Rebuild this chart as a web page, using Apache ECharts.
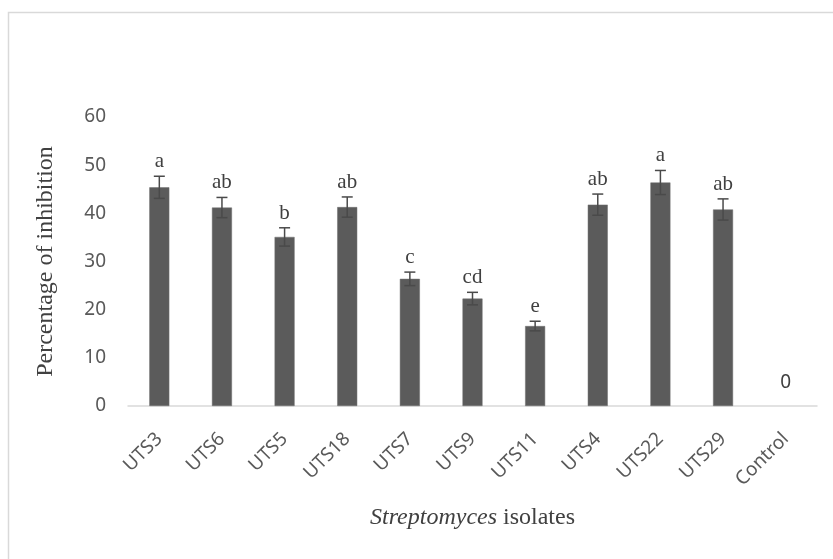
<!DOCTYPE html>
<html>
<head>
<meta charset="utf-8">
<script src="https://cdn.jsdelivr.net/npm/echarts@6/dist/echarts.min.js"></script>
<style>
  html, body { margin: 0; padding: 0; background: #fff; }
  #main { width: 833px; height: 559px; }
</style>
</head>
<body>
<div id="main"></div>
<script>
// data
var isolates = ['UTS3', 'UTS6', 'UTS5', 'UTS18', 'UTS7', 'UTS9', 'UTS11', 'UTS4', 'UTS22', 'UTS29', 'Control'];
var inhibition = [45.4, 41.2, 35.1, 41.3, 26.4, 22.3, 16.6, 41.8, 46.4, 40.8, 0];
var errors = [2.3, 2.1, 1.9, 2.1, 1.4, 1.3, 1.0, 2.2, 2.5, 2.2, 0];
var letters = ['a', 'ab', 'b', 'ab', 'c', 'cd', 'e', 'ab', 'a', 'ab', ''];
var yTicks = [0, 10, 20, 30, 40, 50, 60];

var sans = '"Noto Sans", "Open Sans", sans-serif';
var serif = '"Liberation Serif", "DejaVu Serif", serif';

var barData = inhibition.map(function (v, i) {
  if (isolates[i] === 'Control') {
    return {
      value: v,
      itemStyle: { color: 'transparent', borderWidth: 0 },
      label: { show: true, position: 'top', distance: 14, formatter: '0', fontFamily: sans, fontSize: 19, color: '#404040' }
    };
  }
  return v;
});

var errData = inhibition.map(function (v, i) {
  return [i, v - errors[i], v + errors[i], letters[i]];
});

var myChart = echarts.init(document.getElementById('main'));

myChart.setOption({
  animation: false,
  graphic: [{
    type: 'rect',
    shape: { x: 8.5, y: 12.5, width: 840, height: 580 },
    style: { fill: 'none', stroke: '#d9d9d9', lineWidth: 1.5 },
    silent: true
  }],
  grid: { left: 128, right: 16, top: 117, bottom: 153 },
  xAxis: {
    type: 'category',
    data: isolates,
    axisLine: { lineStyle: { color: '#d9d9d9', width: 1.5 } },
    axisTick: { show: false },
    axisLabel: { rotate: 45, margin: 30, fontFamily: sans, fontSize: 19, color: '#595959', interval: 0 },
    name: '{i|Streptomyces} isolates',
    nameLocation: 'middle',
    nameGap: 100,
    nameTextStyle: {
      fontFamily: serif, fontSize: 24, color: '#404040',
      rich: { i: { fontFamily: serif, fontSize: 24, fontStyle: 'italic', color: '#404040' } }
    }
  },
  yAxis: {
    type: 'value',
    min: yTicks[0],
    max: yTicks[yTicks.length - 1],
    interval: 10,
    splitLine: { show: false },
    axisLine: { show: false },
    axisTick: { show: false },
    axisLabel: { margin: 22, fontFamily: sans, fontSize: 19, color: '#595959' },
    name: 'Percentage of inhibition',
    nameLocation: 'middle',
    nameGap: 70,
    nameTextStyle: { fontFamily: serif, fontSize: 24, color: '#404040' }
  },
  series: [
    {
      type: 'bar',
      data: barData,
      barWidth: 20,
      itemStyle: { color: '#5b5b5b', borderColor: '#6e6e6e', borderWidth: 0.5 }
    },
    {
      type: 'custom',
      data: errData,
      z: 10,
      renderItem: function (params, api) {
        var lo = api.coord([api.value(0), api.value(1)]);
        var hi = api.coord([api.value(0), api.value(2)]);
        var letter = letters[params.dataIndex];
        var cap = 5.5;
        var kids = [];
        if (errors[params.dataIndex] > 0) {
          var st = { stroke: '#4a4a4a', lineWidth: 1.5 };
          kids.push({ type: 'line', shape: { x1: hi[0], y1: hi[1], x2: lo[0], y2: lo[1] }, style: st });
          kids.push({ type: 'line', shape: { x1: hi[0] - cap, y1: hi[1], x2: hi[0] + cap, y2: hi[1] }, style: st });
          kids.push({ type: 'line', shape: { x1: lo[0] - cap, y1: lo[1], x2: lo[0] + cap, y2: lo[1] }, style: st });
        }
        if (letter) {
          kids.push({
            type: 'text',
            style: {
              text: letter, x: hi[0], y: hi[1] - 4,
              align: 'center', verticalAlign: 'bottom',
              font: '21px ' + serif, fill: '#404040'
            }
          });
        }
        return { type: 'group', children: kids };
      }
    }
  ]
});
</script>
</body>
</html>
